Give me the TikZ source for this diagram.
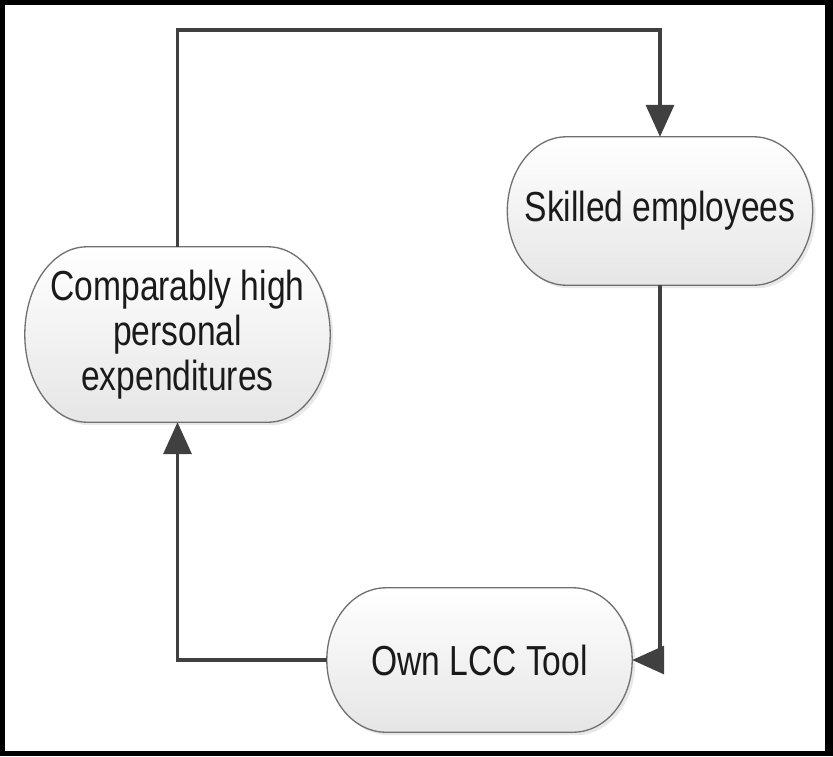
\documentclass[tikz,border=0pt]{standalone}
\usepackage{fontspec}
\newfontfamily\nf[FakeStretch=0.8]{Liberation Sans}
\usetikzlibrary{arrows.meta,calc,shadows}
\pgfdeclarelayer{bg}
\pgfsetlayers{bg,main}
\definecolor{conncol}{HTML}{404040}
\definecolor{edgecol}{HTML}{707070}
\definecolor{txtcol}{HTML}{1A1A1A}
\tikzset{
 term/.style={rectangle, draw=none, inner sep=0pt, minimum width=305pt, align=center,
   font=\nf\fontsize{42}{45}\selectfont, text=txtcol},
 termshape/.style={draw=edgecol, line width=1.3pt, top color=white, bottom color=black!10,
   drop shadow={opacity=0.18, shadow xshift=3pt, shadow yshift=-3pt}},
 conn/.style={draw=conncol, line width=3.5pt, -{Triangle[length=32pt,width=28pt]}}
}
\newcommand{\termbg}[2]{%
 \begin{pgfonlayer}{bg}
 \path[termshape] let \p1=(#1.north west), \p2=(#1.south east), \n1={(\y1-\y2)/2} in
  ({\x1+#2},\y1) -- ({\x2-#2},\y1)
  arc[start angle=90,end angle=-90,x radius=#2,y radius=\n1]
  -- ({\x1+#2},\y2)
  arc[start angle=270,end angle=90,x radius=#2,y radius=\n1] -- cycle;
 \end{pgfonlayer}}
\begin{document}
\begin{tikzpicture}[x=1pt,y=-1pt]
\useasboundingbox (0,0) rectangle (833,756);
\begin{pgfonlayer}{bg}
\fill[black] (0,0) rectangle (833,756);
\fill[white] (5,5) rectangle (825,751);
\end{pgfonlayer}
\node[term, minimum height=148pt] (skilled) at (660,211) {Skilled employees};
\node[term, minimum height=175pt] (comp) at (177.5,334.5) {Comparably high\\personal\\expenditures};
\node[term, minimum height=144pt] (own) at (479.5,660) {Own LCC Tool};
\termbg{skilled}{59pt}
\termbg{comp}{62pt}
\termbg{own}{59pt}
\coordinate (topy) at (0,30);
\draw[conn] (comp.north) -- (comp.north |- topy) -- (skilled.north |- topy) -- (skilled.north);
\draw[conn] (skilled.south) |- (own.east);
\draw[conn] (own.west) -| (comp.south);
\end{tikzpicture}
\end{document}
